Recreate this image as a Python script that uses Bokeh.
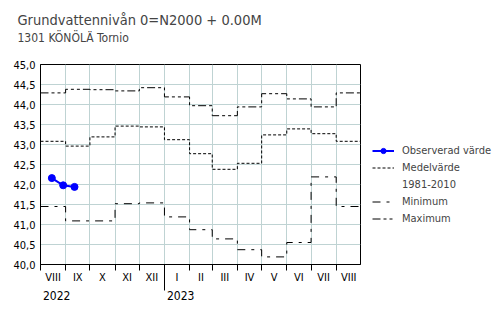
import numpy as np
from bokeh.plotting import figure
from bokeh.models import (Range1d, LinearAxis, FixedTicker, Grid, Legend,
                          LegendItem, Title, ColumnDataSource)
from bokeh.embed import file_html
from bokeh.resources import INLINE

# ---------------- data ----------------
title_main = "Grundvattennivån 0=N2000 + 0.00M"
title_sub = "1301 KÖNÖLÄ Tornio"

month_starts = ["2022-08-01", "2022-09-01", "2022-10-01", "2022-11-01", "2022-12-01",
                "2023-01-01", "2023-02-01", "2023-03-01", "2023-04-01", "2023-05-01",
                "2023-06-01", "2023-07-01", "2023-08-01", "2023-09-01"]
month_labels = ["VIII", "IX", "X", "XI", "XII", "I", "II", "III", "IV", "V", "VI", "VII", "VIII"]

mean_vals = [43.08, 42.96, 43.19, 43.46, 43.44, 43.12, 42.77, 42.38, 42.53, 43.24, 43.39, 43.27, 43.08]
min_vals = [41.45, 41.09, 41.09, 41.52, 41.54, 41.19, 40.87, 40.64, 40.37, 40.19, 40.55, 42.19, 41.45]
max_vals = [44.29, 44.38, 44.37, 44.34, 44.42, 44.19, 43.97, 43.72, 43.94, 44.27, 44.14, 43.94, 44.29]

obs_dates = ["2022-08-15", "2022-08-29", "2022-09-12"]
obs_vals = [42.16, 41.98, 41.94]

y_ticks = [40.0, 40.5, 41.0, 41.5, 42.0, 42.5, 43.0, 43.5, 44.0, 44.5, 45.0]
y_tick_labels = ["40,0", "40,5", "41,0", "41,5", "42,0", "42,5", "43,0", "43,5",
                 "44,0", "44,5", "45,0"]

year_starts = ["2022-08-01", "2023-01-01"]
year_labels = ["2022", "2023"]

legend_labels = ["Observerad värde", "Medelvärde", "1981-2010", "Minimum", "Maximum"]

x_start, x_end = "2022-08-01", "2023-08-31"
y_start, y_end = 40.0, 45.0

# ---------------- helpers ----------------
DAY = 86400000.0


def ms(d):
    return float((np.datetime64(d) - np.datetime64("1970-01-01")) / np.timedelta64(1, "ms"))


FONT = "DejaVu Sans Condensed"
GRID = "#BFD3D3"

bounds = [ms(d) for d in month_starts]
tick_bounds = bounds[:-1]
centers = [(a + b) / 2 for a, b in zip(bounds[:-1], bounds[1:])]
year_ticks = [ms(d) + 20 * DAY for d in year_starts]

src_steps = ColumnDataSource(dict(
    x=bounds,
    mean=mean_vals + [mean_vals[-1]],
    mn=min_vals + [min_vals[-1]],
    mx=max_vals + [max_vals[-1]],
))
src_obs = ColumnDataSource(dict(x=[ms(d) for d in obs_dates], y=obs_vals))

# ---------------- figure ----------------
p = figure(frame_width=320, frame_height=200, output_backend="svg", toolbar_location=None,
           x_axis_type=None, y_axis_type=None,
           x_range=Range1d(ms(x_start), ms(x_end)), y_range=Range1d(y_start, y_end),
           min_border_left=40, min_border_right=140, min_border_top=64,
           min_border_bottom=56, outline_line_color="black",
           background_fill_color="white", border_fill_color="white",
           title=title_main)

p.title.text_font = FONT
p.title.text_font_size = "14.5px"
p.title.text_font_style = "normal"
p.title.align = "left"
p.title.offset = -23
p.title.standoff = -38
p.add_layout(Title(text=title_sub, text_font=FONT, text_font_size="12px",
                   text_font_style="normal", align="left", offset=-23, standoff=40),
             "above")

# grids
p.add_layout(Grid(dimension=1, ticker=FixedTicker(ticks=y_ticks), grid_line_color=GRID))
p.add_layout(Grid(dimension=0, ticker=FixedTicker(ticks=tick_bounds), grid_line_color=GRID))

# y axis
yax = LinearAxis(ticker=FixedTicker(ticks=y_ticks),
                 major_label_overrides={t: l for t, l in zip(y_ticks, y_tick_labels)},
                 major_tick_out=0, major_tick_in=0, minor_tick_out=0, minor_tick_in=0,
                 major_label_standoff=5, axis_line_color="black",
                 major_label_text_font=FONT, major_label_text_font_size="11px",
                 major_label_text_color="black")
p.add_layout(yax, "left")

# month axis
xax = LinearAxis(ticker=FixedTicker(ticks=centers, minor_ticks=tick_bounds),
                 major_label_overrides={c: l for c, l in zip(centers, month_labels)},
                 major_tick_out=0, major_tick_in=0, minor_tick_out=6, minor_tick_in=0,
                 minor_tick_line_color="black",
                 major_label_standoff=0, axis_line_color="black",
                 major_label_text_font=FONT, major_label_text_font_size="11px",
                 major_label_text_color="black")
p.add_layout(xax, "below")

# year axis
yrax = LinearAxis(ticker=FixedTicker(ticks=year_ticks, minor_ticks=[ms(year_starts[1])]),
                  major_label_overrides={c: l for c, l in zip(year_ticks, year_labels)},
                  major_tick_out=0, major_tick_in=0, minor_tick_out=4, minor_tick_in=20,
                  minor_tick_line_color="black",
                  major_label_standoff=0, axis_line_color=None,
                  major_label_text_font=FONT, major_label_text_font_size="12px",
                  major_label_text_color="black")
p.add_layout(yrax, "below")

# series
r_mean = p.step("x", "mean", source=src_steps, mode="after", line_color="black",
                line_width=1, line_dash="3 2")
r_min = p.step("x", "mn", source=src_steps, mode="after", line_color="black",
               line_width=1, line_dash="8 6 3 6")
r_max = p.step("x", "mx", source=src_steps, mode="after", line_color="black",
               line_width=1, line_dash="8 3 3 3 3 3")
r_obs_l = p.line("x", "y", source=src_obs, line_color="#0000FF", line_width=2)
r_obs_c = p.scatter("x", "y", source=src_obs, size=7, fill_color="#0000FF",
                    line_color="#0000FF")
r_blank = p.step("x", "mean", source=src_steps, mode="after", line_alpha=0)

legend = Legend(items=[
    LegendItem(label=legend_labels[0], renderers=[r_obs_l, r_obs_c]),
    LegendItem(label=legend_labels[1], renderers=[r_mean]),
    LegendItem(label=legend_labels[2], renderers=[r_blank]),
    LegendItem(label=legend_labels[3], renderers=[r_min]),
    LegendItem(label=legend_labels[4], renderers=[r_max]),
], location=(12, 39), glyph_width=22, glyph_height=13, label_height=13,
    label_standoff=8, spacing=4, padding=0, margin=0, border_line_color=None,
    background_fill_alpha=0, label_text_font=FONT, label_text_font_size="11px")
p.add_layout(legend, "right")

open("out.html", "w").write(file_html(p, INLINE))
